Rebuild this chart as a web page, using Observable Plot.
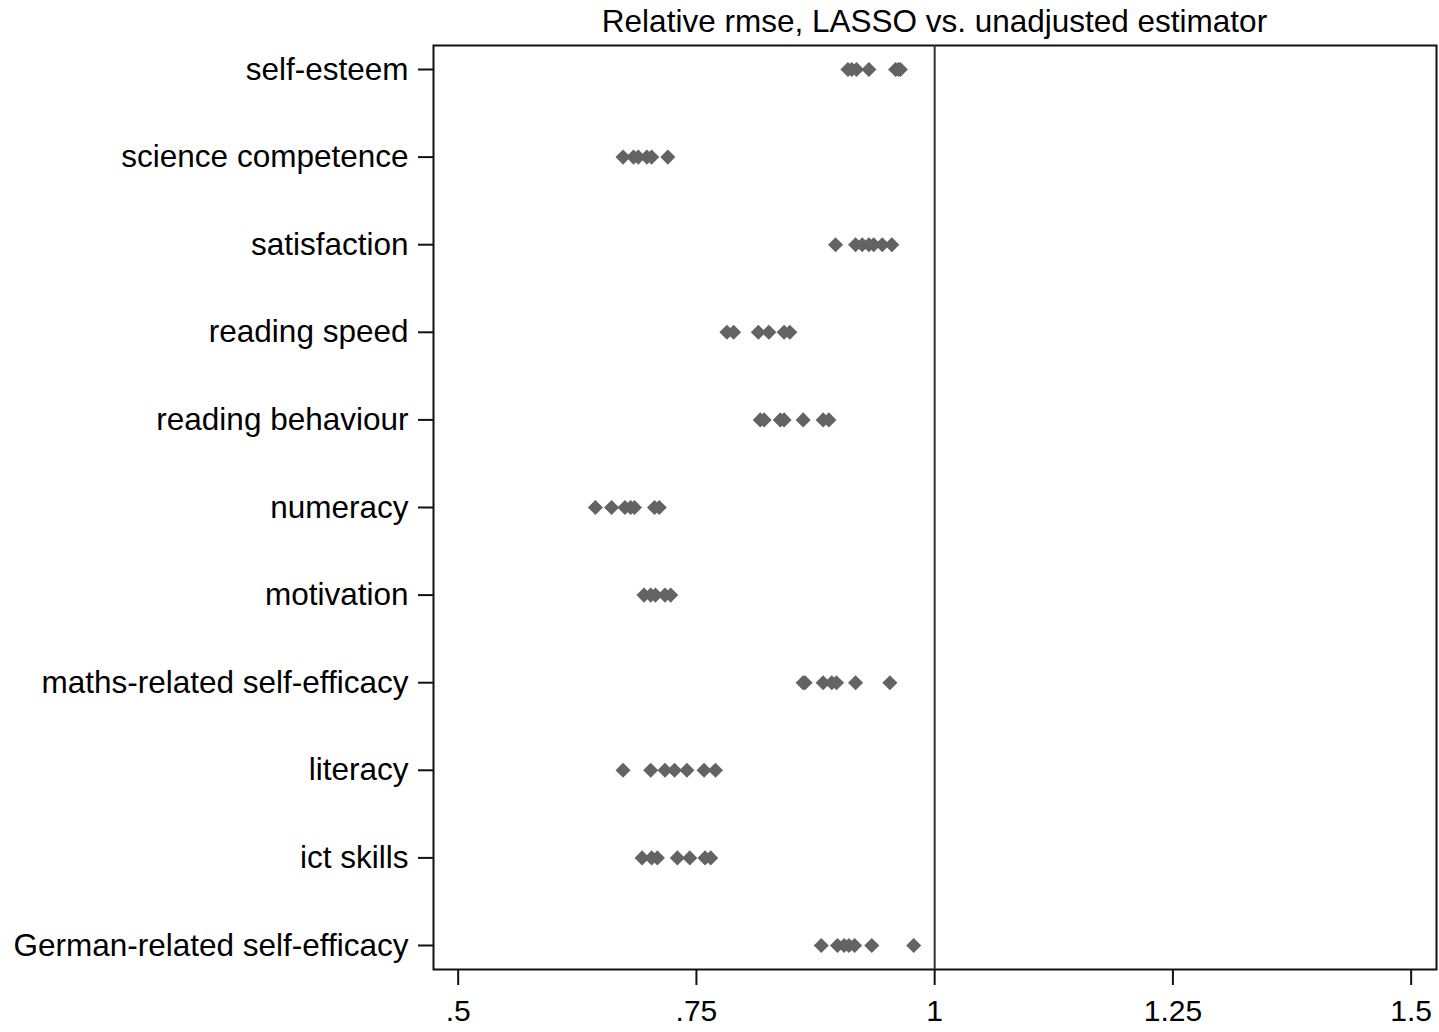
<!DOCTYPE html>
<html>
<head>
<meta charset="utf-8">
<script src="https://cdn.jsdelivr.net/npm/d3@7"></script>
<script src="https://cdn.jsdelivr.net/npm/@observablehq/plot@0.6"></script>
<style>
  html, body { margin: 0; padding: 0; background: #fff; }
  body { width: 1439px; height: 1032px; position: relative; overflow: hidden; font-family: Arial, "Liberation Sans", sans-serif; }
  #title { position: absolute; left: 433px; width: 1003px; top: 4px; text-align: center; font-size: 31.5px; line-height: 34px; color: #000; white-space: nowrap; }
  #chart { position: absolute; left: 0; top: 40px; }
</style>
</head>
<body>
<div id="title">Relative rmse, LASSO vs. unadjusted estimator</div>
<div id="chart"></div>
<script>
const categories = [
  "self-esteem",
  "science competence",
  "satisfaction",
  "reading speed",
  "reading behaviour",
  "numeracy",
  "motivation",
  "maths-related self-efficacy",
  "literacy",
  "ict skills",
  "German-related self-efficacy"
];

const selfEsteem = [0.909, 0.913, 0.918, 0.931, 0.959, 0.962, 0.964];
const scienceCompetence = [0.673, 0.684, 0.689, 0.698, 0.703, 0.720];
const satisfaction = [0.896, 0.917, 0.924, 0.931, 0.936, 0.945, 0.955];
const readingSpeed = [0.782, 0.789, 0.815, 0.826, 0.842, 0.848];
const readingBehaviour = [0.817, 0.821, 0.838, 0.842, 0.862, 0.883, 0.889];
const numeracy = [0.644, 0.661, 0.675, 0.681, 0.685, 0.706, 0.711];
const motivation = [0.695, 0.702, 0.707, 0.717, 0.723];
const mathsSelfEfficacy = [0.862, 0.864, 0.883, 0.892, 0.897, 0.917, 0.953];
const literacy = [0.673, 0.702, 0.717, 0.727, 0.740, 0.758, 0.770];
const ictSkills = [0.693, 0.703, 0.709, 0.730, 0.743, 0.759, 0.765];
const germanSelfEfficacy = [0.881, 0.898, 0.905, 0.910, 0.916, 0.934, 0.978];

const seriesValues = [
  selfEsteem, scienceCompetence, satisfaction, readingSpeed, readingBehaviour,
  numeracy, motivation, mathsSelfEfficacy, literacy, ictSkills, germanSelfEfficacy
];

const xTicks = [0.5, 0.75, 1, 1.25, 1.5];
const xTickLabels = [".5", ".75", "1", "1.25", "1.5"];
const referenceValue = [1];

const table = categories.flatMap((c, i) => seriesValues[i].map(v => ({category: c, value: v})));

const chart = Plot.plot({
  width: 1439,
  height: 992,
  marginLeft: 433,
  marginRight: 3,
  marginTop: 5,
  marginBottom: 63,
  style: {fontFamily: 'Arial, "Liberation Sans", sans-serif', fontSize: "31px", color: "#000", background: "#fff", overflow: "visible"},
  x: {domain: [0.4741, 1.5266], ticks: xTicks, tickFormat: d => xTickLabels[xTicks.indexOf(d)]},
  y: {type: "point", domain: categories, padding: 0.274, round: false},
  marks: [
    Plot.frame({stroke: "#111", strokeWidth: 2}),
    Plot.ruleX(referenceValue, {stroke: "#333", strokeWidth: 2}),
    Plot.dot(table, {x: "value", y: "category", symbol: "diamond2", r: 6.8, fill: "#636363", stroke: "none"}),
    Plot.axisX({ticks: xTicks, tickFormat: d => xTickLabels[xTicks.indexOf(d)], tickSize: 16, tickPadding: 14, strokeWidth: 2, stroke: "#111", label: null, fontSize: 30}),
    Plot.axisY({tickSize: 15, tickPadding: 10, strokeWidth: 2, stroke: "#111", label: null, fontSize: 31.5})
  ]
});
document.getElementById("chart").appendChild(chart);
</script>
</body>
</html>
